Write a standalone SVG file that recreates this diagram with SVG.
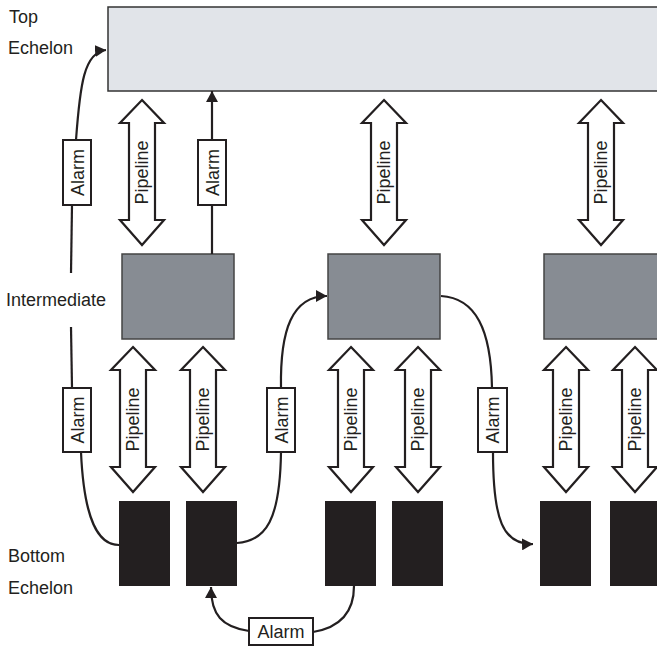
<svg xmlns="http://www.w3.org/2000/svg" xmlns:xlink="http://www.w3.org/1999/xlink" width="657" height="646" viewBox="0 0 657 646">
<style>
text{font-family:"Liberation Sans",Arial,sans-serif;font-size:18px;fill:#231f20}
.lbl{text-anchor:middle}
.top{fill:#e1e4e9;stroke:#333;stroke-width:1.5}
.mid{fill:#878c93;stroke:#444;stroke-width:1.5}
.bot{fill:#231f20;stroke:none}
.pipe{fill:#fff;stroke:#231f20;stroke-width:2.2;stroke-linejoin:miter}
.abox{fill:#fff;stroke:#231f20;stroke-width:2}
.wire{fill:none;stroke:#231f20;stroke-width:2.2}
.arr{marker-end:url(#ah)}
</style>
<defs>
<marker id="ah" markerUnits="userSpaceOnUse" markerWidth="12" markerHeight="12" refX="11" refY="6" orient="auto">
<path d="M0,0 L11,6 L0,12 Z" fill="#231f20"/>
</marker>
<path id="pipe" class="pipe" d="M0,0 L22,23 L13,23 L13,120 L22,120 L0,145 L-22,120 L-13,120 L-13,23 L-22,23 Z"/>
</defs>

<g id="labels">
<text x="9" y="23">Top</text>
<text x="8" y="54">Echelon</text>
<text x="6" y="306">Intermediate</text>
<text x="8" y="562">Bottom</text>
<text x="8" y="594">Echelon</text>
</g>

<g id="top-echelon"><rect class="top" x="108" y="7" width="560" height="84"/></g>

<g id="intermediate-1"><rect class="mid" x="122" y="254" width="112" height="85"/></g>
<g id="intermediate-2"><rect class="mid" x="328" y="254" width="112" height="85"/></g>
<g id="intermediate-3"><rect class="mid" x="544" y="254" width="120" height="85"/></g>

<g id="bottom-1"><rect class="bot" x="119" y="501" width="51" height="85"/></g>
<g id="bottom-2"><rect class="bot" x="186" y="501" width="51" height="85"/></g>
<g id="bottom-3"><rect class="bot" x="325" y="501" width="51" height="85"/></g>
<g id="bottom-4"><rect class="bot" x="392" y="501" width="51" height="85"/></g>
<g id="bottom-5"><rect class="bot" x="540" y="501" width="51" height="85"/></g>
<g id="bottom-6"><rect class="bot" x="610" y="501" width="51" height="85"/></g>

<g id="connectors">
<use href="#pipe" xlink:href="#pipe" x="142" y="100"/>
<use href="#pipe" xlink:href="#pipe" x="384" y="100"/>
<use href="#pipe" xlink:href="#pipe" x="601" y="100"/>
<use href="#pipe" xlink:href="#pipe" x="133" y="347"/>
<use href="#pipe" xlink:href="#pipe" x="203" y="347"/>
<use href="#pipe" xlink:href="#pipe" x="351" y="347"/>
<use href="#pipe" xlink:href="#pipe" x="418" y="347"/>
<use href="#pipe" xlink:href="#pipe" x="566" y="347"/>
<use href="#pipe" xlink:href="#pipe" x="635" y="347"/>

<g class="lbl">
<text transform="translate(142,172.5) rotate(-90)" y="6">Pipeline</text>
<text transform="translate(384,172.5) rotate(-90)" y="6">Pipeline</text>
<text transform="translate(601,172.5) rotate(-90)" y="6">Pipeline</text>
<text transform="translate(133,419.5) rotate(-90)" y="6">Pipeline</text>
<text transform="translate(203,419.5) rotate(-90)" y="6">Pipeline</text>
<text transform="translate(351,419.5) rotate(-90)" y="6">Pipeline</text>
<text transform="translate(418,419.5) rotate(-90)" y="6">Pipeline</text>
<text transform="translate(566,419.5) rotate(-90)" y="6">Pipeline</text>
<text transform="translate(635,419.5) rotate(-90)" y="6">Pipeline</text>
</g>

<path class="wire arr" d="M76,140 C80,85 84,52 106,50"/>
<path class="wire" d="M71,273 L72,205"/>
<path class="wire" d="M71,327 L72,388"/>
<path class="wire" d="M81,452 C84,520 98,545 119,545"/>
<path class="wire" d="M212,254 L212,205"/>
<path class="wire arr" d="M212,140 L212,91"/>
<path class="wire" d="M237,543 C266,541 280,520 281,452"/>
<path class="wire arr" d="M281,388 C280,330 292,296 327,296"/>
<path class="wire" d="M441,296 C476,298 491,330 492,388"/>
<path class="wire arr" d="M493,452 C493,520 503,545 533,544"/>
<path class="wire" d="M354,586 C354,615 337,628 313,632"/>
<path class="wire arr" d="M249,631 C222,627 211,615 211,587"/>

<rect class="abox" x="63" y="140" width="28" height="65"/>
<rect class="abox" x="198" y="140" width="28" height="65"/>
<rect class="abox" x="63" y="388" width="28" height="64"/>
<rect class="abox" x="267" y="388" width="28" height="64"/>
<rect class="abox" x="478" y="388" width="29" height="64"/>
<rect class="abox" x="249" y="618" width="64" height="27"/>
<g class="lbl">
<text transform="translate(77,172.5) rotate(-90)" y="6.5">Alarm</text>
<text transform="translate(212,172.5) rotate(-90)" y="6.5">Alarm</text>
<text transform="translate(77,420) rotate(-90)" y="6.5">Alarm</text>
<text transform="translate(281,420) rotate(-90)" y="6.5">Alarm</text>
<text transform="translate(492.5,420) rotate(-90)" y="6.5">Alarm</text>
<text x="281" y="638">Alarm</text>
</g>
</g>
</svg>
